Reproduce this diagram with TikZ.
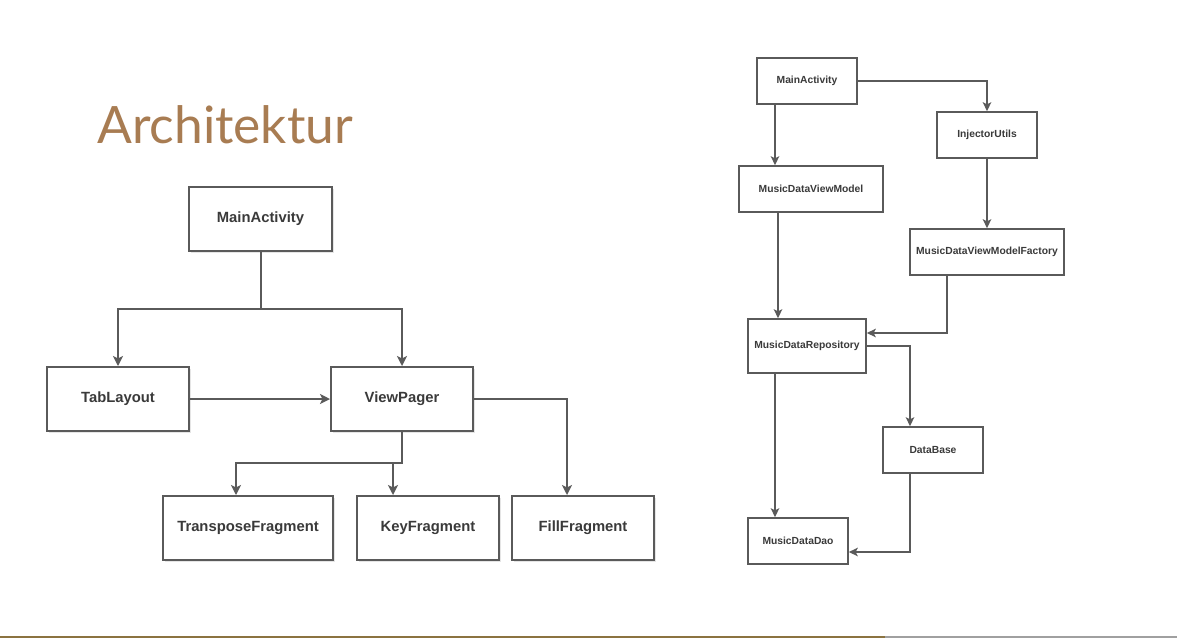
\documentclass[tikz,border=0pt]{standalone}
\usepackage{fontspec}
\setmainfont{Liberation Sans}
\newfontfamily\titlefont{Lato}
\usetikzlibrary{arrows.meta,shadows}
\definecolor{titlebrown}{RGB}{168,124,82}
\definecolor{linegray}{RGB}{90,90,90}
\definecolor{textgray}{RGB}{58,58,58}
\definecolor{ruleGold}{RGB}{139,115,64}
\definecolor{ruleGray}{RGB}{160,160,160}

\begin{document}
\begin{tikzpicture}[x=1pt, y=-1pt,
	bigbox/.style={draw=linegray, line width=2pt, fill=white, inner sep=0pt,
		font=\fontsize{14.8}{17}\selectfont\bfseries, text=textgray,
		drop shadow={shadow xshift=1.5pt, shadow yshift=-1.5pt, opacity=0.2}},
	smallbox/.style={draw=linegray, line width=1.6pt, fill=white, inner sep=0pt,
		font=\fontsize{10.3}{12}\selectfont\bfseries, text=textgray,
		drop shadow={shadow xshift=1.2pt, shadow yshift=-1.2pt, opacity=0.2}},
	bigarr/.style={draw=linegray, line width=2pt, -{Stealth[length=10pt,width=10pt,inset=2.5pt]}},
	smallarr/.style={draw=linegray, line width=1.6pt, -{Stealth[length=9pt,width=8.5pt,inset=2.2pt]}}]
		%%%%% START %%%%%
		
		\useasboundingbox[fill=white] (0, 0) rectangle (1177, 638);
		
		\node[anchor=base west, inner sep=0pt, text=titlebrown, font=\titlefont\fontsize{51.5}{60}\selectfont] (title) at (97, 143) {Architektur};
		
		% left diagram
		\node[bigbox, minimum width=143, minimum height=64] (ma) at (260.5, 219) {MainActivity};
		\node[bigbox, minimum width=142, minimum height=64] (tab) at (118, 399) {TabLayout};
		\node[bigbox, minimum width=142, minimum height=64] (vp) at (402, 399) {ViewPager};
		\node[bigbox, minimum width=170, minimum height=64] (trans) at (248, 528) {TransposeFragment};
		\node[bigbox, minimum width=142, minimum height=64] (key) at (428, 528) {KeyFragment};
		\node[bigbox, minimum width=142, minimum height=64] (fill) at (583, 528) {FillFragment};
		
		\coordinate (ma-split) at (260.5, 309);
		\coordinate (vp-split) at (402, 463);
		
		\draw[bigarr, -] (ma.south) -- (ma-split);
		\draw[bigarr] (ma-split) -| (tab.north);
		\draw[bigarr] (ma-split) -| (vp.north);
		\draw[bigarr] (tab.east) -- (vp.west);
		\draw[bigarr] (vp.east) -| ([xshift=-16]fill.north);
		\draw[bigarr] (vp.south) -- (vp-split) -| ([xshift=-12]trans.north);
		\draw[bigarr] ([xshift=-35]key.north |- vp-split) -- ([xshift=-35]key.north);
		
		% right diagram
		\node[smallbox, minimum width=100, minimum height=46] (ma2) at (807, 81) {MainActivity};
		\node[smallbox, minimum width=100, minimum height=46] (inj) at (987, 135) {InjectorUtils};
		\node[smallbox, minimum width=144, minimum height=46] (mdvm) at (811, 189) {MusicDataViewModel};
		\node[smallbox, minimum width=154, minimum height=46] (fac) at (987, 252) {MusicDataViewModelFactory};
		\node[smallbox, minimum width=118, minimum height=54] (repo) at (807, 346) {MusicDataRepository};
		\node[smallbox, minimum width=100, minimum height=46] (db) at (933, 450) {DataBase};
		\node[smallbox, minimum width=100, minimum height=46] (dao) at (798, 541) {MusicDataDao};
		
		\draw[smallarr] ([xshift=-32]ma2.south) -- ([xshift=-32]ma2.south |- mdvm.north);
		\draw[smallarr] (ma2.east) -| (inj.north);
		\draw[smallarr] (inj.south) -- (fac.north);
		\draw[smallarr] ([xshift=-33]mdvm.south) -- ([xshift=-33]mdvm.south |- repo.north);
		\draw[smallarr] ([xshift=-40]fac.south) |- ([yshift=13]repo.east);
		\draw[smallarr] (repo.east) -| ([xshift=-23]db.north);
		\draw[smallarr] ([xshift=-32]repo.south) -- ([xshift=-32]repo.south |- dao.north);
		\draw[smallarr] ([xshift=-23]db.south) |- ([yshift=-11]dao.east);
		
		% bottom rule
		\fill[ruleGold] (0, 636) rectangle (885, 638);
		\fill[ruleGray] (885, 636) rectangle (1177, 638);
		
		%%%%% END %%%%%
	\end{tikzpicture}
\end{document}
